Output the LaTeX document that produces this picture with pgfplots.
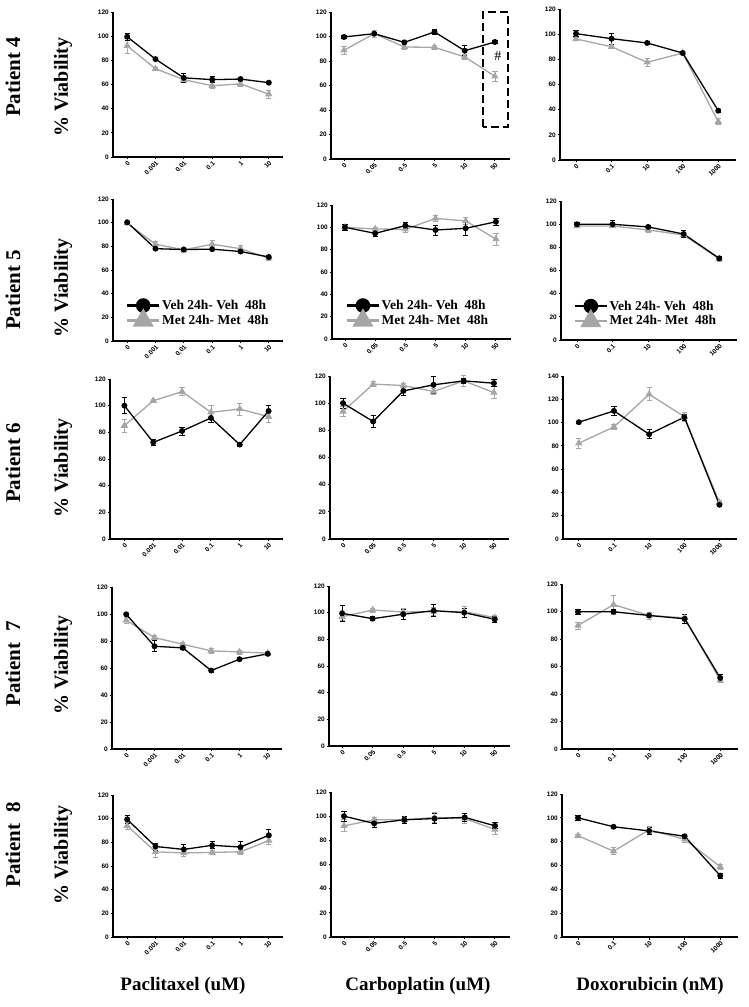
\documentclass[border=0pt]{standalone}
\usepackage{fontspec}
\setmainfont{Liberation Serif}
\newfontfamily\tickfont{Liberation Sans}
\usepackage{pgfplots}
\pgfplotsset{compat=1.18}
\definecolor{metgray}{HTML}{A6A6A6}
\pgfplotsset{
 panel/.style={scale only axis, axis x line*=bottom, axis y line*=left,
   axis line style={line width=1.6pt,-}, ymin=0, ymax=120, ytick={0,20,...,120},
   tick align=outside, major tick length=2.5pt, tick style={line width=0.9pt,black},
   ticklabel style={font=\tickfont\bfseries\fontsize{6.5}{7}\selectfont},
   x tick label style={rotate=45, anchor=north east, inner sep=0.5pt},
   y tick label style={inner sep=1.5pt},
   clip=false, /pgf/number format/assume math mode=true},
 pac/.style={panel, width=170pt, xmin=-0.5, xmax=5.5, xtick={0,...,5}, xticklabels={0,0.001,0.01,0.1,1,10}},
 carb/.style={panel, width=179pt, xmin=-0.43, xmax=5.5, xtick={0,...,5}, xticklabels={0,0.05,0.5,5,10,50}},
 dox/.style={panel, width=176pt, xmin=-0.45, xmax=4.5, xtick={0,...,4}, xticklabels={0,0.1,10,100,1000}},
 veh/.style={black, line width=1.3pt, mark=*, mark size=2.3pt, mark options={solid, fill=black},
   error bars/.cd, y dir=both, y explicit, error bar style={black, line width=0.8pt},
   error mark options={rotate=90, mark size=2.6pt, black, line width=0.8pt}},
 met/.style={metgray, line width=1.3pt, mark=triangle*, mark size=3pt, mark options={solid, fill=metgray},
   error bars/.cd, y dir=both, y explicit, error bar style={metgray, line width=0.8pt},
   error mark options={rotate=90, mark size=2.6pt, metgray, line width=0.8pt}},
 leg/.style={legend style={draw=none, fill=none, inner sep=0pt, row sep=-2pt,
   font=\bfseries\fontsize{13.5}{14}\selectfont, at={(#1)}, anchor=west,
   nodes={inner sep=1.5pt}},
   legend cell align=left,
   legend image code/.code={\draw[mark repeat=2,mark phase=2,##1] plot coordinates {(0pt,0pt) (16pt,0pt) (32pt,0pt)};}},
}
\newcommand{\legimgs}{%
 \addlegendimage{black, line width=2.6pt, mark=*, mark size=6pt}
 \addlegendimage{metgray, line width=2.2pt, mark=triangle*, mark size=10pt}}
\begin{document}
\begin{tikzpicture}
\path[use as bounding box] (0,0) rectangle (748pt,1007pt);
% ---------- Row 1: Patient 4
\begin{axis}[pac, at={(113pt,850pt)}, anchor=south west, height=145pt]
\addplot[met] table[x=x,y=y,y error=e,row sep=\\]{x y e\\0 92 6\\1 73 1.5\\2 64 2\\3 59 2.5\\4 60.5 2\\5 52 3.5\\};
\addplot[veh] table[x=x,y=y,y error=e,row sep=\\]{x y e\\0 99.5 3\\1 81 1\\2 65.5 4\\3 64 2.5\\4 64.5 1\\5 61.5 1\\};
\end{axis}
\begin{axis}[carb, at={(331pt,848pt)}, anchor=south west, height=147pt]
\addplot[met] table[x=x,y=y,y error=e,row sep=\\]{x y e\\0 88.7 3\\1 102.3 3\\2 91.4 2\\3 91.2 1.5\\4 83.3 2\\5 67.5 4\\};
\addplot[veh] table[x=x,y=y,y error=e,row sep=\\]{x y e\\0 99.6 1\\1 102.3 1\\2 95.2 1\\3 103.7 2\\4 88.4 4\\5 95.5 1\\};
\draw[black, line width=2.6pt, dash pattern=on 8pt off 4pt] (axis cs:4.6,26) rectangle (axis cs:5.43,120);
\node[font=\fontsize{14}{14}\selectfont] at (axis cs:5.1,84) {\#};
\end{axis}
\begin{axis}[dox, at={(560pt,847pt)}, anchor=south west, height=151pt]
\addplot[met] table[x=x,y=y,y error=e,row sep=\\]{x y e\\0 96.2 1.5\\1 90 1.5\\2 77.6 3\\3 85 1\\4 30.5 2.5\\};
\addplot[veh] table[x=x,y=y,y error=e,row sep=\\]{x y e\\0 100.4 2.5\\1 96.4 4.5\\2 93 1\\3 85 1\\4 39.2 1\\};
\end{axis}
% ---------- Row 2: Patient 5
\begin{axis}[pac, at={(113pt,666pt)}, anchor=south west, height=142pt, leg={0.075,0.197},
  legend entries={Veh 24h- Veh\ \ 48h, Met 24h- Met\ \ 48h}]
\legimgs
\addplot[met] table[x=x,y=y,y error=e,row sep=\\]{x y e\\0 99.5 1\\1 81.8 2.5\\2 77 2.5\\3 81.8 3.5\\4 78 2.5\\5 70 2\\};
\addplot[veh] table[x=x,y=y,y error=e,row sep=\\]{x y e\\0 100.3 1\\1 78 1\\2 77.3 1\\3 77.6 1\\4 75.6 1\\5 71 1\\};
\end{axis}
\begin{axis}[carb, at={(332pt,668pt)}, anchor=south west, height=134pt, leg={0.075,0.194},
  legend entries={Veh 24h- Veh\ \ 48h, Met 24h- Met\ \ 48h}]
\legimgs
\addplot[met] table[x=x,y=y,y error=e,row sep=\\]{x y e\\0 100 2\\1 98.5 1\\2 98.2 2.5\\3 108 2.5\\4 105.7 3\\5 89.5 5.5\\};
\addplot[veh] table[x=x,y=y,y error=e,row sep=\\]{x y e\\0 100 3\\1 94.6 3\\2 101.5 2.5\\3 97.6 4.5\\4 99.1 6\\5 105 3\\};
\end{axis}
\begin{axis}[dox, at={(561pt,667pt)}, anchor=south west, height=139pt, leg={0.07,0.19},
  legend entries={Veh 24h- Veh\ \ 48h, Met 24h- Met\ \ 48h}]
\legimgs
\addplot[met] table[x=x,y=y,y error=e,row sep=\\]{x y e\\0 98.4 1\\1 98.4 1\\2 95 2.5\\3 90.6 2\\4 70 2\\};
\addplot[veh] table[x=x,y=y,y error=e,row sep=\\]{x y e\\0 99.9 1.5\\1 99.9 3\\2 97.6 1.5\\3 91.5 3\\4 70.5 2\\};
\end{axis}
% ---------- Row 3: Patient 6
\begin{axis}[pac, at={(110pt,468pt)}, anchor=south west, height=160pt, width=173pt]
\addplot[met] table[x=x,y=y,y error=e,row sep=\\]{x y e\\0 85 5\\1 103.7 1\\2 110.5 3\\3 95 5\\4 97.5 4.5\\5 91.7 4\\};
\addplot[veh] table[x=x,y=y,y error=e,row sep=\\]{x y e\\0 100 6\\1 72.5 2.5\\2 81 3\\3 90.8 3.5\\4 70.8 1\\5 96 4.5\\};
\end{axis}
\begin{axis}[carb, at={(330pt,468pt)}, anchor=south west, height=163pt]
\addplot[met] table[x=x,y=y,y error=e,row sep=\\]{x y e\\0 93.9 4\\1 114 2\\2 113 1.5\\3 108.6 2.5\\4 116.4 4\\5 107.8 4.5\\};
\addplot[veh] table[x=x,y=y,y error=e,row sep=\\]{x y e\\0 100 3.5\\1 86.5 4.5\\2 109 3\\3 113.5 6\\4 116.4 2\\5 114.7 2.5\\};
\end{axis}
\begin{axis}[dox, at={(563pt,468pt)}, anchor=south west, height=163pt, width=174pt, ymax=140, ytick={0,20,...,140}]
\addplot[met] table[x=x,y=y,y error=e,row sep=\\]{x y e\\0 82.3 4.5\\1 96.3 2.5\\2 124.3 5.5\\3 105.1 4\\4 31.4 2\\};
\addplot[veh] table[x=x,y=y,y error=e,row sep=\\]{x y e\\0 100.3 1\\1 110 3.5\\2 90 4\\3 104.6 2.5\\4 29.4 1.5\\};
\end{axis}
% ---------- Row 4: Patient 7
\begin{axis}[pac, at={(112pt,258pt)}, anchor=south west, height=162pt]
\addplot[met] table[x=x,y=y,y error=e,row sep=\\]{x y e\\0 95.3 2\\1 82.5 1.5\\2 77.6 1\\3 72.7 2\\4 71.9 1.5\\5 71 1.5\\};
\addplot[veh] table[x=x,y=y,y error=e,row sep=\\]{x y e\\0 99.8 1\\1 76.1 4\\2 74.9 1\\3 58.1 1\\4 66.5 1\\5 70.5 1\\};
\end{axis}
\begin{axis}[carb, at={(329pt,261pt)}, anchor=south west, height=160pt, width=181pt]
\addplot[met] table[x=x,y=y,y error=e,row sep=\\]{x y e\\0 97 3\\1 102 1.5\\2 100.5 2.5\\3 100.8 3\\4 100.8 4\\5 96.3 2\\};
\addplot[veh] table[x=x,y=y,y error=e,row sep=\\]{x y e\\0 99.5 6\\1 95.5 1.5\\2 98.8 4\\3 101.5 4.5\\4 100 3.5\\5 95 2.5\\};
\end{axis}
\begin{axis}[dox, at={(562pt,258pt)}, anchor=south west, height=165pt]
\addplot[met] table[x=x,y=y,y error=e,row sep=\\]{x y e\\0 89.8 2.5\\1 105 7\\2 97.1 2.5\\3 95.4 2.5\\4 50 1.5\\};
\addplot[veh] table[x=x,y=y,y error=e,row sep=\\]{x y e\\0 99.8 2\\1 99.8 1.5\\2 97.1 1\\3 94.7 3.5\\4 51.7 2.5\\};
\end{axis}
% ---------- Row 5: Patient 8
\begin{axis}[pac, at={(113pt,70pt)}, anchor=south west, height=142pt]
\addplot[met] table[x=x,y=y,y error=e,row sep=\\]{x y e\\0 94 3\\1 72 5\\2 71 3\\3 71.5 2\\4 72 2\\5 81.5 3\\};
\addplot[veh] table[x=x,y=y,y error=e,row sep=\\]{x y e\\0 99.4 3.5\\1 76.5 3\\2 74 4\\3 77.5 3\\4 76 4.5\\5 86 5\\};
\end{axis}
\begin{axis}[carb, at={(331pt,70pt)}, anchor=south west, height=145pt]
\addplot[met] table[x=x,y=y,y error=e,row sep=\\]{x y e\\0 92 5\\1 97 2\\2 97 2\\3 99 4\\4 98 4\\5 89 4\\};
\addplot[veh] table[x=x,y=y,y error=e,row sep=\\]{x y e\\0 100 4\\1 94 3\\2 97 3\\3 98 4\\4 99 3\\5 92 2.5\\};
\end{axis}
\begin{axis}[dox, at={(562pt,70pt)}, anchor=south west, height=143pt]
\addplot[met] table[x=x,y=y,y error=e,row sep=\\]{x y e\\0 85 1.5\\1 72 3\\2 90 3\\3 82 3\\4 59 2\\};
\addplot[veh] table[x=x,y=y,y error=e,row sep=\\]{x y e\\0 100 2\\1 92.5 1\\2 89 3\\3 84.5 2\\4 51.5 2\\};
\end{axis}
% ---------- Labels
\begin{scope}[every node/.style={font=\bfseries\fontsize{21}{21}\selectfont, rotate=90, inner sep=0pt}]
\node at (13pt,930pt) {Patient 4};
\node at (13pt,717pt) {Patient 5};
\node at (13pt,544pt) {Patient 6};
\node at (13pt,343pt) {Patient\ \ 7};
\node at (13pt,162pt) {Patient\ \ 8};
\end{scope}
\begin{scope}[every node/.style={font=\bfseries\fontsize{20}{20}\selectfont, rotate=90, inner sep=0pt}]
\node at (63pt,920pt) {\% Viability};
\node at (63pt,719pt) {\% Viability};
\node at (63pt,539pt) {\% Viability};
\node at (63pt,342pt) {\% Viability};
\node at (63pt,152pt) {\% Viability};
\end{scope}
\begin{scope}[every node/.style={font=\bfseries\fontsize{19}{19}\selectfont, inner sep=0pt}]
\node at (183pt,21pt) {Paclitaxel (uM)};
\node at (418pt,21pt) {Carboplatin (uM)};
\node at (650pt,21pt) {Doxorubicin (nM)};
\end{scope}
\end{tikzpicture}
\end{document}
